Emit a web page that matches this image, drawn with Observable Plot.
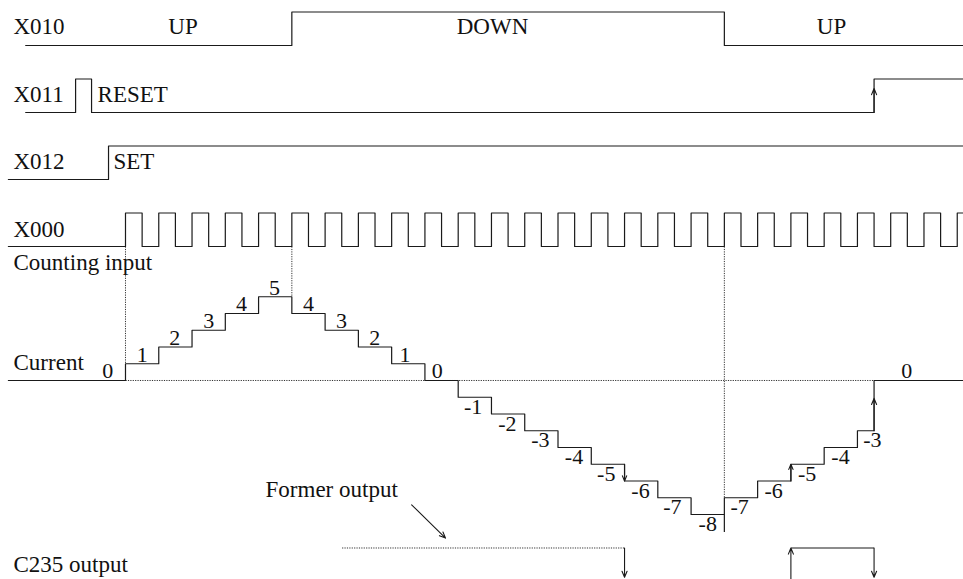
<!DOCTYPE html>
<html>
<head>
<meta charset="utf-8">
<script src="https://cdn.jsdelivr.net/npm/d3@7"></script>
<script src="https://cdn.jsdelivr.net/npm/@observablehq/plot@0.6"></script>
<style>
  html, body { margin: 0; padding: 0; background: #fff; }
  #chart svg { display: block; }
</style>
</head>
<body>
<div id="chart"></div>
<script>
// ---- time axis in counting-pulse periods, levels in count units ----
const xDomain = [-3.757, 25.188];
const yDomain = [-11.881, 22.687];
const tEnd = 25.19;

// Row baselines (level units) and high amplitude
const rowBase = { X010: 20, X011: 16, X012: 12, X000: 8, C235: -12 };
const amp = 2;

// X010 direction signal (0 = UP, 1 = DOWN)
const x010Times  = [-3.0, 5, 18];
const x010States = [0, 1, 0];
// X011 reset signal
const x011Times  = [-3.0, -1.5, -1.02, 22.5];
const x011States = [0, 1, 0, 1];
// X012 set signal
const x012Times  = [-3.52, -0.51];
const x012States = [0, 1];
// X000 counting pulses (rising edges)
const x000Start = -3.52;
const x000Rises = [0,1,2,3,4,5,6,7,8,9,10,11,12,13,14,15,16,17,18,19,20,21,22,23,24,25];
const pulseWidth = 0.5;

// Current value staircase
const counterStart = -3.52;
const counterTimes  = [0,1,2,3,4,5,6,7,8,9,10,11,12,13,14,15,16,17,18,19,20,21,22,22.5];
const counterValues = [1,2,3,4,5,4,3,2,1,0,-1,-2,-3,-4,-5,-6,-7,-8,-7,-6,-5,-4,-3,0];
const stepLabelTimes = [0.5,1.48,2.5,3.49,4.48,5.5,6.49,7.49,8.4,9.37,10.45,11.48,12.47,13.48,14.45,15.48,16.44,17.5,18.46,19.48,20.49,21.49,22.45,23.48];
const initialLabel = { t: -0.53, v: 0, text: "0" };

// C235 output
const formerOutput = { t1: 6.51, t2: 15 };
const outputOn = 20, outputOff = 22.5;

// Texts
const rowLabels = [
  { t: -3.366, v: 20.66, text: "X010" },
  { t: -3.366, v: 16.62, text: "X011" },
  { t: -0.84,  v: 16.62, text: "RESET" },
  { t: -3.366, v: 12.64, text: "X012" },
  { t: -0.36,  v: 12.64, text: "SET" },
  { t: -3.366, v: 8.56,  text: "X000" },
  { t: -3.366, v: 6.57,  text: "Counting input" },
  { t: -3.366, v: 0.6,   text: "Current" },
  { t: 4.21,   v: -6.93, text: "Former output" },
  { t: -3.366, v: -11.46, text: "C235 output" }
];
const dirLabels = [
  { t: 1.73,  v: 20.66, text: "UP" },
  { t: 11.03, v: 20.66, text: "DOWN" },
  { t: 21.22, v: 20.66, text: "UP" }
];

// ---- build mark data ----
function stepSignal(name, times, states, base) {
  const pts = times.map((t, i) => ({ name, t, v: base + amp * states[i] }));
  pts.push({ name, t: tEnd, v: base + amp * states[states.length - 1] });
  return pts;
}
const signals = [
  ...stepSignal("X010", x010Times, x010States, rowBase.X010),
  ...stepSignal("X011", x011Times, x011States, rowBase.X011),
  ...stepSignal("X012", x012Times, x012States, rowBase.X012)
];
const pulses = [{ name: "X000", t: x000Start, v: rowBase.X000 }];
for (const r of x000Rises) {
  pulses.push({ name: "X000", t: r, v: rowBase.X000 + amp });
  if (r + pulseWidth < tEnd) pulses.push({ name: "X000", t: r + pulseWidth, v: rowBase.X000 });
}
pulses.push({ name: "X000", t: tEnd, v: rowBase.X000 + amp });

const counter = [{ t: counterStart, v: 0 }];
counterTimes.forEach((t, i) => counter.push({ t, v: counterValues[i] }));
counter.push({ t: tEnd, v: 0 });

const stepLabels = counterValues.map((v, i) => ({ t: stepLabelTimes[i], v, text: String(v) }));
const upperLabels = [initialLabel, ...stepLabels.filter(d => d.v >= 0)];
const lowerLabels = stepLabels.filter(d => d.v < 0);

const dotted = [
  { x1: 0, y1: 0, x2: 22.5, y2: 0 },
  { x1: 0, y1: rowBase.X000, x2: 0, y2: 0 },
  { x1: 5, y1: rowBase.X000, x2: 5, y2: 5 },
  { x1: 18, y1: rowBase.X000, x2: 18, y2: -7 },
  { x1: formerOutput.t1, y1: rowBase.C235 + amp, x2: formerOutput.t2, y2: rowBase.C235 + amp }
];
const solidSegs = [
  { x1: 18, y1: -8, x2: 18, y2: -9.05 },
  { x1: outputOn, y1: rowBase.C235 + amp, x2: outputOff, y2: rowBase.C235 + amp }
];
const arrows = [
  { x1: 22.5, y1: rowBase.X011, x2: 22.5, y2: 17.43 },
  { x1: 15, y1: -5, x2: 15, y2: -6 },
  { x1: 20, y1: -6, x2: 20, y2: -5 },
  { x1: 22.5, y1: -3, x2: 22.5, y2: -1.07 },
  { x1: formerOutput.t2, y1: rowBase.C235 + amp, x2: formerOutput.t2, y2: -11.75 },
  { x1: outputOn, y1: yDomain[0], x2: outputOn, y2: rowBase.C235 + amp },
  { x1: outputOff, y1: rowBase.C235 + amp, x2: outputOff, y2: -11.75 },
  { x1: 8.60, y1: -7.42, x2: 9.62, y2: -9.41 }
];

const ink = "#1a1a1a";
const font = "'Liberation Serif', 'Times New Roman', serif";

const chart = Plot.plot({
  width: 963,
  height: 579,
  margin: 0,
  x: { domain: xDomain, axis: null },
  y: { domain: yDomain, axis: null },
  style: { fontFamily: font, background: "#fff" },
  marks: [
    Plot.link(dotted, { x1: "x1", y1: "y1", x2: "x2", y2: "y2", stroke: "#333", strokeWidth: 1, strokeDasharray: "1.2,1.2" }),
    Plot.line(signals, { x: "t", y: "v", z: "name", curve: "step-after", stroke: ink, strokeWidth: 1.2 }),
    Plot.line(pulses, { x: "t", y: "v", curve: "step-after", stroke: ink, strokeWidth: 1.2 }),
    Plot.line(counter, { x: "t", y: "v", curve: "step-after", stroke: ink, strokeWidth: 1.2 }),
    Plot.link(solidSegs, { x1: "x1", y1: "y1", x2: "x2", y2: "y2", stroke: ink, strokeWidth: 1.2 }),
    Plot.arrow(arrows, { x1: "x1", y1: "y1", x2: "x2", y2: "y2", stroke: ink, strokeWidth: 1.1, headLength: 9, headAngle: 45 }),
    Plot.text(rowLabels, { x: "t", y: "v", text: "text", textAnchor: "start", lineAnchor: "bottom", fontSize: 23, fill: "#111" }),
    Plot.text(dirLabels, { x: "t", y: "v", text: "text", textAnchor: "middle", lineAnchor: "bottom", fontSize: 23, fill: "#111" }),
    Plot.text(upperLabels, { x: "t", y: "v", text: "text", textAnchor: "middle", lineAnchor: "bottom", dy: -2, fontSize: 22, fill: "#111" }),
    Plot.text(lowerLabels, { x: "t", y: "v", text: "text", textAnchor: "middle", lineAnchor: "top", dy: 1, fontSize: 22, fill: "#111" })
  ]
});
document.getElementById("chart").appendChild(chart);
</script>
</body>
</html>
